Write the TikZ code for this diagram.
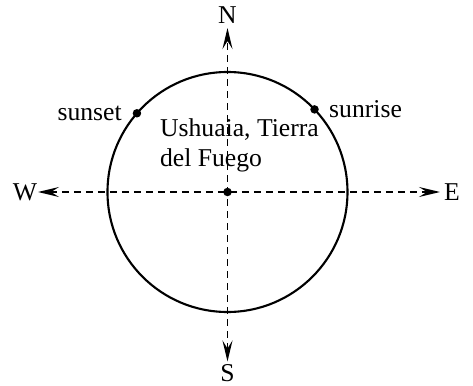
\documentclass[tikz,border=0pt]{standalone}
\usepackage{fontspec}
\setmainfont{Liberation Serif}
\usepackage{tikz}
\usetikzlibrary{
  positioning,
  arrows.meta
}
\tikzset{
  axis/.style={
    {Stealth[length=4.2mm, width=2mm, inset=1.6mm]}-{Stealth[length=4.2mm, width=2mm, inset=1.6mm]},
    line width=1pt, dash pattern=on 1.4mm off 1mm
  },
  dirlabel/.style={font=\rmfamily\fontsize{14.6}{17}\selectfont, inner sep=1pt},
  sundot/.style={circle, fill=black, inner sep=0pt, minimum size=1.7mm}
}

\begin{document}
\begin{tikzpicture}[
  x=1cm, y=1cm,
  orbit/.style={draw, line width=1.2pt},
  placelbl/.style={font=\rmfamily\fontsize{14.6}{17.1}\selectfont, align=left, inner sep=1pt},
]
\useasboundingbox (-4.55,-3.86) rectangle (4.91,3.84);

\coordinate (O) at (0,0);
\draw[orbit] (O) circle (2.4);

% Ort
\node[placelbl, anchor=west] (place) at (-1.39,0.94) {Ushuaia, Tierra\\del Fuego};

% Achsen
\coordinate (n) at (0,3.28);
\coordinate (s) at (0,-3.39);
\coordinate (w) at (-3.79,0);
\coordinate (e) at (4.25,0);
\draw[axis] (s) -- (n);
\draw[axis] (w) -- (e);
\node[dirlabel] (lblN) at (0,3.54) {N};
\node[dirlabel] (lblS) at (0,-3.63) {S};
\node[dirlabel] (lblW) at (-4.05,0) {W};
\node[dirlabel] (lblE) at (4.49,0) {E};

\node[sundot] (ctr) at (O) {};

% Sonnenauf- und -untergang
\node[sundot] (set) at (139:2.4) {};
\node[sundot] (rise) at (43.5:2.4) {};
\node[dirlabel, left=0.17cm of set] (lblset) {sunset};
\node[dirlabel, right=0.16cm of rise] (lblrise) {sunrise};

\end{tikzpicture}
\end{document}
